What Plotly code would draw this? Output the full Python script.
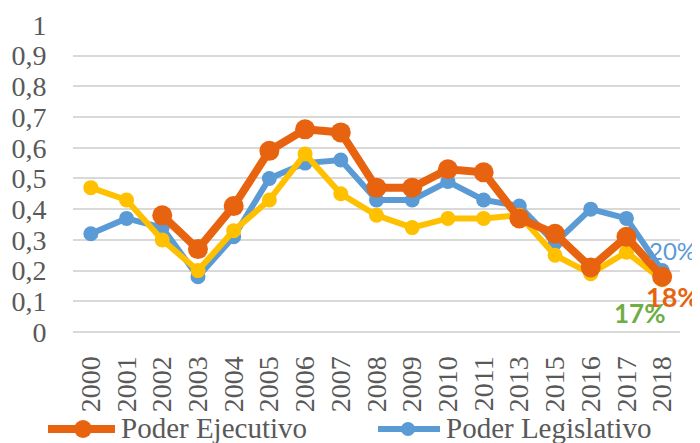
import plotly.graph_objects as go

# Data
years = ["2000", "2001", "2002", "2003", "2004", "2005", "2006", "2007", "2008",
         "2009", "2010", "2011", "2013", "2015", "2016", "2017", "2018"]
ejecutivo = [None, None, 0.38, 0.27, 0.41, 0.59, 0.66, 0.65, 0.47,
             0.47, 0.53, 0.52, 0.37, 0.32, 0.21, 0.31, 0.18]
legislativo = [0.32, 0.37, 0.34, 0.18, 0.31, 0.50, 0.55, 0.56, 0.43,
               0.43, 0.49, 0.43, 0.41, 0.29, 0.40, 0.37, 0.20]
judicial = [0.47, 0.43, 0.30, 0.20, 0.33, 0.43, 0.58, 0.45, 0.38,
            0.34, 0.37, 0.37, 0.38, 0.25, 0.19, 0.26, 0.17]
y_ticks = [0, 0.1, 0.2, 0.3, 0.4, 0.5, 0.6, 0.7, 0.8, 0.9, 1]
y_tick_labels = ["0", "0,1", "0,2", "0,3", "0,4", "0,5", "0,6", "0,7", "0,8", "0,9", "1"]

ORANGE = "#E8630F"
BLUE = "#5B9BD5"
YELLOW = "#FFC000"
GREEN = "#70AD47"
GRID = "#D9D9D9"
TEXT = "#595959"
SERIF = "Liberation Serif, Times New Roman, Times, serif"
SANS = "Lato, Liberation Sans, sans-serif"

# the page body keeps its default 8px margin, so the figure is shrunk by that much
OFF = 8
W, H = 700 - OFF, 443 - OFF
ML, MT = 73 - OFF, 24 - OFF
PW, PH = 607, 308
MR, MB = W - ML - PW, H - MT - PH


def px(xp):
    """window pixel x -> paper x"""
    return (xp - OFF - ML) / PW


def py(yp):
    """window pixel y -> paper y"""
    return (MT + PH - (yp - OFF)) / PH


fig = go.Figure()

# drawing order: blue, yellow, orange on top
fig.add_trace(go.Scatter(
    x=years, y=legislativo, name="Poder Legislativo", mode="lines+markers",
    line=dict(color=BLUE, width=6), marker=dict(size=15, color=BLUE),
    cliponaxis=False, showlegend=False,
))
fig.add_trace(go.Scatter(
    x=years, y=judicial, name="Poder Judicial", mode="lines+markers",
    line=dict(color=YELLOW, width=6), marker=dict(size=15, color=YELLOW),
    cliponaxis=False, showlegend=False,
))
fig.add_trace(go.Scatter(
    x=years, y=ejecutivo, name="Poder Ejecutivo", mode="lines+markers",
    line=dict(color=ORANGE, width=8), marker=dict(size=20, color=ORANGE),
    cliponaxis=False, showlegend=False,
))

# end-of-series percentage labels: value, colour, size, bold, x/y shift
end_labels = [
    (legislativo[-1], BLUE, 24, False, 10, 20),
    (ejecutivo[-1], ORANGE, 27, True, 10, -20),
    (judicial[-1], GREEN, 26, True, -23, -33),
]
for val, col, size, bold, dx, dy in end_labels:
    label = f"{round(val * 100)}%"
    fig.add_annotation(
        x=len(years) - 1, y=val, xref="x", yref="y",
        text=f"<b>{label}</b>" if bold else label, showarrow=False,
        xshift=dx, yshift=dy,
        font=dict(family=SANS, size=size, color=col),
    )

# hand-made legend (long line symbols like the original)
legend_items = [
    ("Poder Ejecutivo", ORANGE, 8, 18, 48, 115, 83),
    ("Poder Legislativo", BLUE, 6, 14, 378, 440, 408),
]
ly = 429
for name, col, lw, ms, x0, x1, cx in legend_items:
    fig.add_shape(type="line", xref="paper", yref="paper",
                  x0=px(x0), x1=px(x1), y0=py(ly), y1=py(ly),
                  line=dict(color=col, width=lw))
    fig.add_shape(type="circle", xref="paper", yref="paper",
                  x0=px(cx - ms / 2), x1=px(cx + ms / 2),
                  y0=py(ly + ms / 2), y1=py(ly - ms / 2),
                  fillcolor=col, line=dict(color=col, width=0))
    fig.add_annotation(x=px(x1 + 4), y=py(ly - 1), xref="paper", yref="paper",
                       xanchor="left", yanchor="middle", showarrow=False,
                       text=name, font=dict(family=SERIF, size=29, color=TEXT))

fig.update_layout(
    width=W, height=H,
    margin=dict(l=ML, r=MR, t=MT, b=MB),
    paper_bgcolor="white", plot_bgcolor="white",
    font=dict(family=SERIF, size=28, color=TEXT),
    showlegend=False,
)
fig.update_xaxes(
    type="category", tickmode="array", tickvals=years, ticktext=years,
    range=[-0.5, len(years) - 0.5], automargin=False,
    tickangle=-90, showgrid=False, showline=False, ticks="outside",
    ticklen=12, tickcolor="rgba(0,0,0,0)",
    tickfont=dict(family=SERIF, size=28, color=TEXT),
)
fig.update_yaxes(
    range=[0, 1.003], tickvals=y_ticks, ticktext=y_tick_labels, automargin=False,
    showgrid=True, gridcolor=GRID, gridwidth=2,
    zeroline=True, zerolinecolor=GRID, zerolinewidth=2,
    showline=False, ticks="outside", ticklen=20, tickcolor="rgba(0,0,0,0)",
    tickfont=dict(family=SERIF, size=28, color=TEXT),
)

fig.write_html("out.html")
